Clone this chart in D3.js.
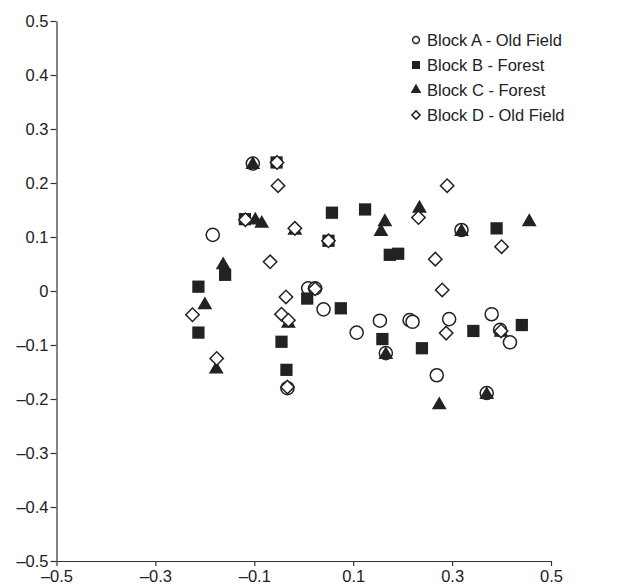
<!DOCTYPE html>
<html>
<head>
<script src="https://cdn.jsdelivr.net/npm/d3@7"></script>
<style>
  body { margin: 0; background: #fff; }
  text { font-family: "Liberation Sans", Arial, sans-serif; fill: #222; }
</style>
</head>
<body>
<script>
// ordination scores, one array per block
var blockA = [[-0.103,0.236],[-0.184,0.104],[0.009,0.005],[0.023,0.005],[0.040,-0.034],
  [0.107,-0.077],[0.154,-0.055],[0.214,-0.054],[0.220,-0.057],[0.294,-0.052],[0.380,-0.043],
  [0.397,-0.072],[0.417,-0.095],[0.166,-0.115],[0.269,-0.156],[0.370,-0.189],[-0.033,-0.180],
  [0.319,0.113]];
var blockB = [[-0.055,0.238],[-0.119,0.133],[0.057,0.145],[0.124,0.151],[0.050,0.093],
  [0.174,0.067],[0.191,0.069],[0.390,0.116],[-0.159,0.030],[-0.213,0.008],[-0.213,-0.077],
  [0.007,-0.014],[0.075,-0.032],[-0.045,-0.094],[-0.035,-0.146],[0.159,-0.089],[0.239,-0.106],
  [0.343,-0.074],[0.441,-0.063]];
var blockC = [[-0.103,0.234],[-0.098,0.131],[-0.085,0.125],[-0.018,0.112],[0.164,0.128],
  [0.156,0.110],[0.234,0.153],[0.319,0.110],[0.456,0.128],[-0.163,0.048],[-0.200,-0.026],
  [-0.177,-0.145],[-0.031,-0.060],[0.166,-0.118],[0.399,-0.077],[0.370,-0.192],[0.274,-0.211]];
var blockD = [[-0.054,0.238],[-0.052,0.195],[-0.118,0.132],[-0.018,0.116],[0.050,0.093],
  [0.290,0.195],[0.232,0.136],[0.400,0.082],[0.266,0.059],[0.280,0.002],[-0.068,0.054],
  [-0.225,-0.044],[-0.176,-0.125],[-0.036,-0.011],[0.023,0.004],[-0.045,-0.043],[-0.031,-0.054],
  [-0.033,-0.178],[0.288,-0.078],[0.399,-0.074]];

var legendLabels = ["Block A - Old Field", "Block B - Forest", "Block C - Forest", "Block D - Old Field"];
var xTicks = [-0.5, -0.3, -0.1, 0.1, 0.3, 0.5];
var yTicks = [0.5, 0.4, 0.3, 0.2, 0.1, 0, -0.1, -0.2, -0.3, -0.4, -0.5];

var width = 618, height = 588;
var svg = d3.select("body").append("svg").attr("width", width).attr("height", height);

var x = d3.scaleLinear().domain([-0.5, 0.5]).range([56.5, 551]);
var y = d3.scaleLinear().domain([-0.5, 0.5]).range([561, 21]);

// minus shown as an en dash in the original
function fmt(d) {
  var s = d === 0 ? "0" : d3.format(".1f")(Math.abs(d));
  return d < 0 ? "\u2013" + s : s;
}

var xAxis = svg.append("g").attr("transform", "translate(0," + y(-0.5) + ")")
  .call(d3.axisBottom(x).tickValues(xTicks).tickFormat(fmt).tickSize(5).tickPadding(4).tickSizeOuter(0));
var yAxis = svg.append("g").attr("transform", "translate(" + x(-0.5) + ",0)")
  .call(d3.axisLeft(y).tickValues(yTicks).tickFormat(fmt).tickSize(6).tickPadding(2).tickSizeOuter(0));

[xAxis, yAxis].forEach(function(g) {
  g.selectAll("path, line").attr("stroke", "#333").attr("stroke-width", 1.2);
  g.selectAll("text").style("font-size", "16.5px").attr("fill", "#222");
});

var sym = {
  circle: d3.symbol().type(d3.symbolCircle).size(135),
  square: d3.symbol().type(d3.symbolSquare).size(150),
  triangle: d3.symbol().type(d3.symbolTriangle).size(95),
  diamond: d3.symbol().type(d3.symbolSquare).size(90)
};

function draw(data, path, fill, stroke, rot) {
  svg.append("g").selectAll("path").data(data).enter().append("path")
    .attr("d", path)
    .attr("transform", function(d) {
      return "translate(" + x(d[0]) + "," + y(d[1]) + ")" + (rot ? " rotate(45)" : "");
    })
    .attr("fill", fill)
    .attr("stroke", stroke)
    .attr("stroke-width", 1.5);
}

draw(blockA, sym.circle, "#fff", "#222", false);
draw(blockB, sym.square, "#222", "none", false);
draw(blockC, sym.triangle, "#222", "none", false);
draw(blockD, sym.diamond, "#fff", "#222", true);

// legend
var legendSyms = [
  { p: d3.symbol().type(d3.symbolCircle).size(36), fill: "#fff", stroke: "#222", rot: false },
  { p: d3.symbol().type(d3.symbolSquare).size(64), fill: "#222", stroke: "none", rot: false },
  { p: d3.symbol().type(d3.symbolTriangle).size(50), fill: "#222", stroke: "none", rot: false },
  { p: d3.symbol().type(d3.symbolSquare).size(34), fill: "#fff", stroke: "#222", rot: true }
];
var legend = svg.append("g");
legendLabels.forEach(function(lab, i) {
  var ly = 40 + i * 25;
  legend.append("path").attr("d", legendSyms[i].p)
    .attr("transform", "translate(416," + ly + ")" + (legendSyms[i].rot ? " rotate(45)" : ""))
    .attr("fill", legendSyms[i].fill).attr("stroke", legendSyms[i].stroke).attr("stroke-width", 1.5);
  legend.append("text").attr("x", 427).attr("y", ly).attr("dy", "0.35em")
    .style("font-size", "16.5px").text(lab);
});
</script>
</body>
</html>
